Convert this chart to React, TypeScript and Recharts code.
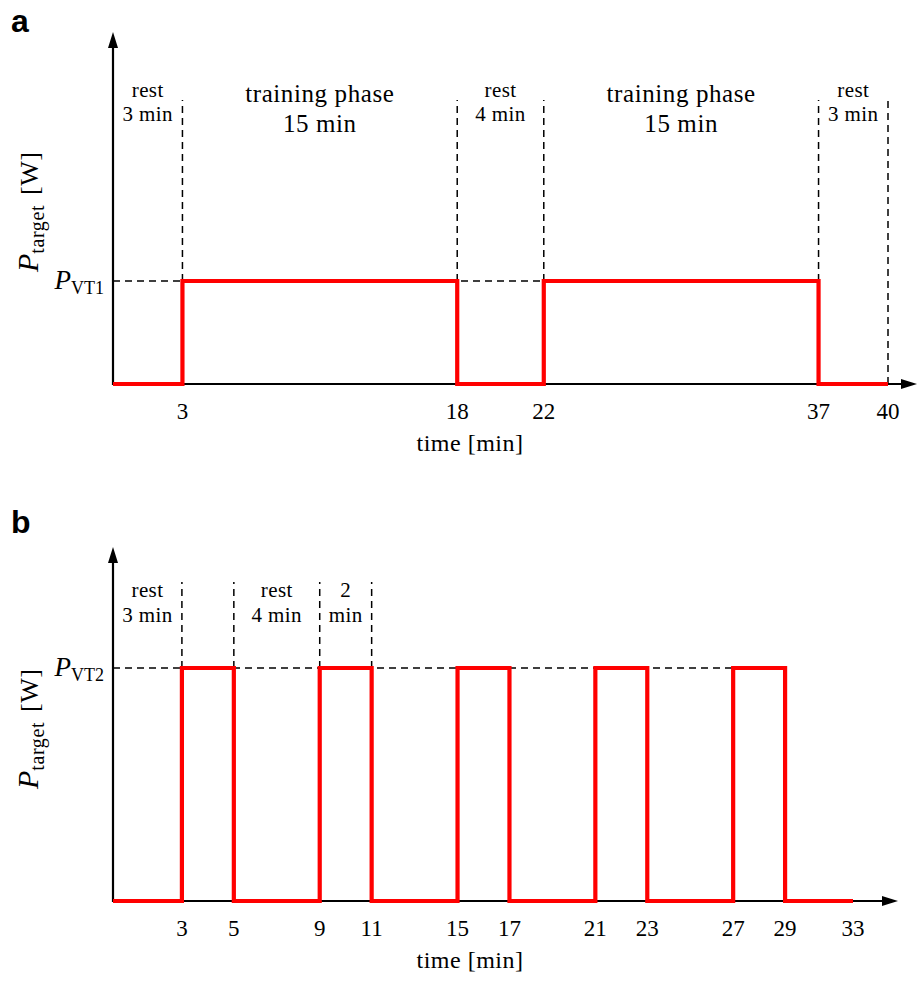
import React from "react";
import { LineChart, Line, XAxis, YAxis, ReferenceLine, ReferenceDot } from "recharts";

const SERIF = "'Liberation Serif', 'Times New Roman', serif";
const SANS = "'Liberation Sans', Arial, sans-serif";

// a: two 15-min training phases at P_VT1
const timesA = [0, 3, 18, 22, 37, 40];
const powerA = [0, 1, 0, 1, 0, 0];
const ticksA = [3, 18, 22, 37, 40];
const bordersA = [3, 18, 22, 37, 40];
const guidesA = [3, 18, 22, 37, 40];
const phasesA = [
  { from: 0, to: 3, text: ["rest", "3 min"] },
  { from: 3, to: 18, text: ["training phase", "15 min"] },
  { from: 18, to: 22, text: ["rest", "4 min"] },
  { from: 22, to: 37, text: ["training phase", "15 min"] },
  { from: 37, to: 40, text: ["rest", "3 min"] },
];

// b: 2-min intervals at P_VT2
const timesB = [0, 3, 5, 9, 11, 15, 17, 21, 23, 27, 29, 33];
const powerB = [0, 1, 0, 1, 0, 1, 0, 1, 0, 1, 0, 0];
const ticksB = [3, 5, 9, 11, 15, 17, 21, 23, 27, 29, 33];
const bordersB = [3, 5, 9, 11, 15, 17, 21, 23, 27, 29];
const guidesB = [3, 5, 9, 11];
const phasesB = [
  { from: 0, to: 3, text: ["rest", "3 min"] },
  { from: 5, to: 9, text: ["rest", "4 min"] },
  { from: 9, to: 11, text: ["2", "min"] },
];

// schematic time axis: every phase gets a little extra room, like the drawing
function makeWarpScale(borders: number[], pad: number) {
  const warp = (v: number) => {
    let prev = 0;
    for (let i = 0; i < borders.length; i++) {
      const b = borders[i];
      if (v <= b) return v + pad * (i + (v - prev) / (b - prev));
      prev = b;
    }
    return v + pad * borders.length;
  };
  const build = (dom: number[], rng: number[]): any => {
    let d = dom.slice();
    let r = rng.slice();
    const s: any = (v: number) => {
      const u0 = warp(Number(d[0]));
      const u1 = warp(Number(d[d.length - 1]));
      return r[0] + ((warp(v) - u0) / (u1 - u0)) * (r[r.length - 1] - r[0]);
    };
    s.domain = (x?: number[]) => {
      if (x === undefined) return d.slice();
      d = x.slice();
      return s;
    };
    s.range = (x?: number[]) => {
      if (x === undefined) return r.slice();
      r = x.slice();
      return s;
    };
    s.copy = () => build(d, r);
    s.ticks = () => borders.slice();
    s.tickFormat = () => (v: number) => String(v);
    s.nice = () => s;
    s.clamp = () => s;
    s.invert = (px: number) => {
      let lo = Number(d[0]);
      let hi = Number(d[d.length - 1]);
      for (let k = 0; k < 40; k++) {
        const mid = (lo + hi) / 2;
        if ((s(mid) - px) * (r[r.length - 1] - r[0]) < 0) lo = mid;
        else hi = mid;
      }
      return (lo + hi) / 2;
    };
    return s;
  };
  return build([0, 1], [0, 1]);
}

type Phase = { from: number; to: number; text: string[] };

type PanelProps = {
  letter: string;
  sub: string;
  times: number[];
  power: number[];
  ticks: number[];
  borders: number[];
  guides: number[];
  phases: Phase[];
  top: number;
  height: number;
  margin: { top: number; right: number; bottom: number; left: number };
  yTop: number;
  guideTop: number;
  arrowTip: number;
  restRows: number[];
  bigRows: number[];
  letterY: number;
};

const WIDTH = 917;
const X_AXIS_H = 40;
const Y_AXIS_W = 100;
const DASH = { stroke: "#000", strokeWidth: 1.5, strokeDasharray: "7 5" };

function levelAt(times: number[], power: number[], x: number) {
  let before = 0;
  let at = 0;
  times.forEach((t, i) => {
    if (t < x) before = power[i];
    if (t <= x) at = power[i];
  });
  return Math.max(before, at);
}

function Panel(p: PanelProps) {
  const data = p.times.map((t, i) => ({ t, p: p.power[i] }));
  const scale = makeWarpScale(p.borders, 18 / 17);
  const plotLeft = p.margin.left + Y_AXIS_W;
  const plotBottom = p.height - p.margin.bottom - X_AXIS_H;
  const plotTop = p.margin.top;
  const lastHigh = p.times.filter((t, i) => i > 0 && p.power[i - 1] === 1).pop() ?? 0;
  const labelY = plotBottom - 112;

  const TimeTick = (props: any) => (
    <text
      x={props.x}
      y={props.y + 35}
      textAnchor="middle"
      fontFamily={SERIF}
      fontSize={23}
      fill="#000"
    >
      {props.payload.value}
    </text>
  );

  const LevelTick = (props: any) => (
    <text x={props.x - 9} y={props.y + 8} textAnchor="end" fontFamily={SERIF} fill="#000">
      <tspan fontStyle="italic" fontSize={27}>P</tspan>
      <tspan fontSize={18} dy={5}>{p.sub}</tspan>
    </text>
  );

  return (
    <div style={{ position: "absolute", left: 0, top: p.top }}>
      <LineChart width={WIDTH} height={p.height} data={data} margin={p.margin}>
        <XAxis
          dataKey="t"
          type="number"
          scale={scale}
          domain={[0, p.times[p.times.length - 1]]}
          ticks={p.ticks}
          interval={0}
          height={X_AXIS_H}
          axisLine={false}
          tickLine={false}
          tickSize={0}
          tickMargin={0}
          tick={<TimeTick />}
        />
        <YAxis
          type="number"
          domain={[0, p.yTop]}
          ticks={[1]}
          interval={0}
          width={Y_AXIS_W}
          axisLine={false}
          tickLine={false}
          tickSize={0}
          tickMargin={0}
          tick={<LevelTick />}
        />
        {/* axes with arrow heads */}
        <g>
          <line x1={plotLeft} y1={plotBottom + 1} x2={plotLeft} y2={plotTop + 14} stroke="#000" strokeWidth={2.2} />
          <polygon
            points={`${plotLeft},${plotTop} ${plotLeft - 5},${plotTop + 16} ${plotLeft + 5},${plotTop + 16}`}
            fill="#000"
          />
          <line x1={plotLeft - 1} y1={plotBottom} x2={p.arrowTip - 14} y2={plotBottom} stroke="#000" strokeWidth={2.2} />
          <polygon
            points={`${p.arrowTip},${plotBottom} ${p.arrowTip - 16},${plotBottom - 5} ${p.arrowTip - 16},${plotBottom + 5}`}
            fill="#000"
          />
        </g>
        <ReferenceLine
          segment={[{ x: 0, y: 1 }, { x: lastHigh, y: 1 }]}
          ifOverflow="visible"
          {...DASH}
        />
        {p.guides.map((g) => (
          <ReferenceLine
            key={`g-${g}`}
            segment={[{ x: g, y: levelAt(p.times, p.power, g) }, { x: g, y: p.guideTop }]}
            ifOverflow="visible"
            {...DASH}
          />
        ))}
        {p.phases.map((ph, i) => {
          const big = ph.text[0].length > 6;
          const rows = big ? p.bigRows : p.restRows;
          return (
            <ReferenceDot
              key={`ph-${i}`}
              x={(ph.from + ph.to) / 2}
              y={p.yTop}
              r={0}
              ifOverflow="visible"
              shape={(sp: any) => (
                <text
                  textAnchor="middle"
                  fontFamily={SERIF}
                  fontSize={big ? 25 : 21}
                  letterSpacing={big ? 0.6 : 0.4}
                  fill="#000"
                >
                  {ph.text.map((line, k) => (
                    <tspan key={k} x={sp.cx} y={sp.cy + rows[k]}>
                      {line}
                    </tspan>
                  ))}
                </text>
              )}
            />
          );
        })}
        <Line
          dataKey="p"
          type="stepAfter"
          stroke="#ff0000"
          strokeWidth={4.2}
          strokeLinejoin="miter"
          dot={false}
          activeDot={false}
          isAnimationActive={false}
        />
        <text x={470} y={plotBottom + 67} textAnchor="middle" fontFamily={SERIF} fontSize={24} letterSpacing={0.5} fill="#000">
          time [min]
        </text>
        <text
          x={38}
          y={labelY}
          transform={`rotate(-90 38 ${labelY})`}
          textAnchor="start"
          fontFamily={SERIF}
          fill="#000"
        >
          <tspan fontStyle="italic" fontSize={30}>P</tspan>
          <tspan fontSize={20} dy={6} letterSpacing={0.6}>target</tspan>
          <tspan fontSize={26} dy={-6} dx={10} letterSpacing={0.5}>[W]</tspan>
        </text>
        <text x={11} y={p.letterY} fontFamily={SANS} fontWeight="bold" fontSize={32} fill="#000">
          {p.letter}
        </text>
      </LineChart>
    </div>
  );
}

export default function App() {
  return (
    <div style={{ position: "absolute", left: 0, top: 0, width: WIDTH, height: 982, background: "#fff" }}>
      <Panel
        letter="a"
        sub="VT1"
        times={timesA}
        power={powerA}
        ticks={ticksA}
        borders={bordersA}
        guides={guidesA}
        phases={phasesA}
        top={0}
        height={480}
        margin={{ top: 32, right: 29, bottom: 56, left: 13 }}
        yTop={352 / 103}
        guideTop={284 / 103}
        arrowTip={917}
        restRows={[65, 89]}
        bigRows={[70, 100]}
        letterY={32}
      />
      <Panel
        letter="b"
        sub="VT2"
        times={timesB}
        power={powerB}
        ticks={ticksB}
        borders={bordersB}
        guides={guidesB}
        phases={phasesB}
        top={480}
        height={502}
        margin={{ top: 67, right: 64, bottom: 41, left: 13 }}
        yTop={354 / 233}
        guideTop={319 / 233}
        arrowTip={898}
        restRows={[50, 75]}
        bigRows={[50, 75]}
        letterY={53}
      />
    </div>
  );
}
